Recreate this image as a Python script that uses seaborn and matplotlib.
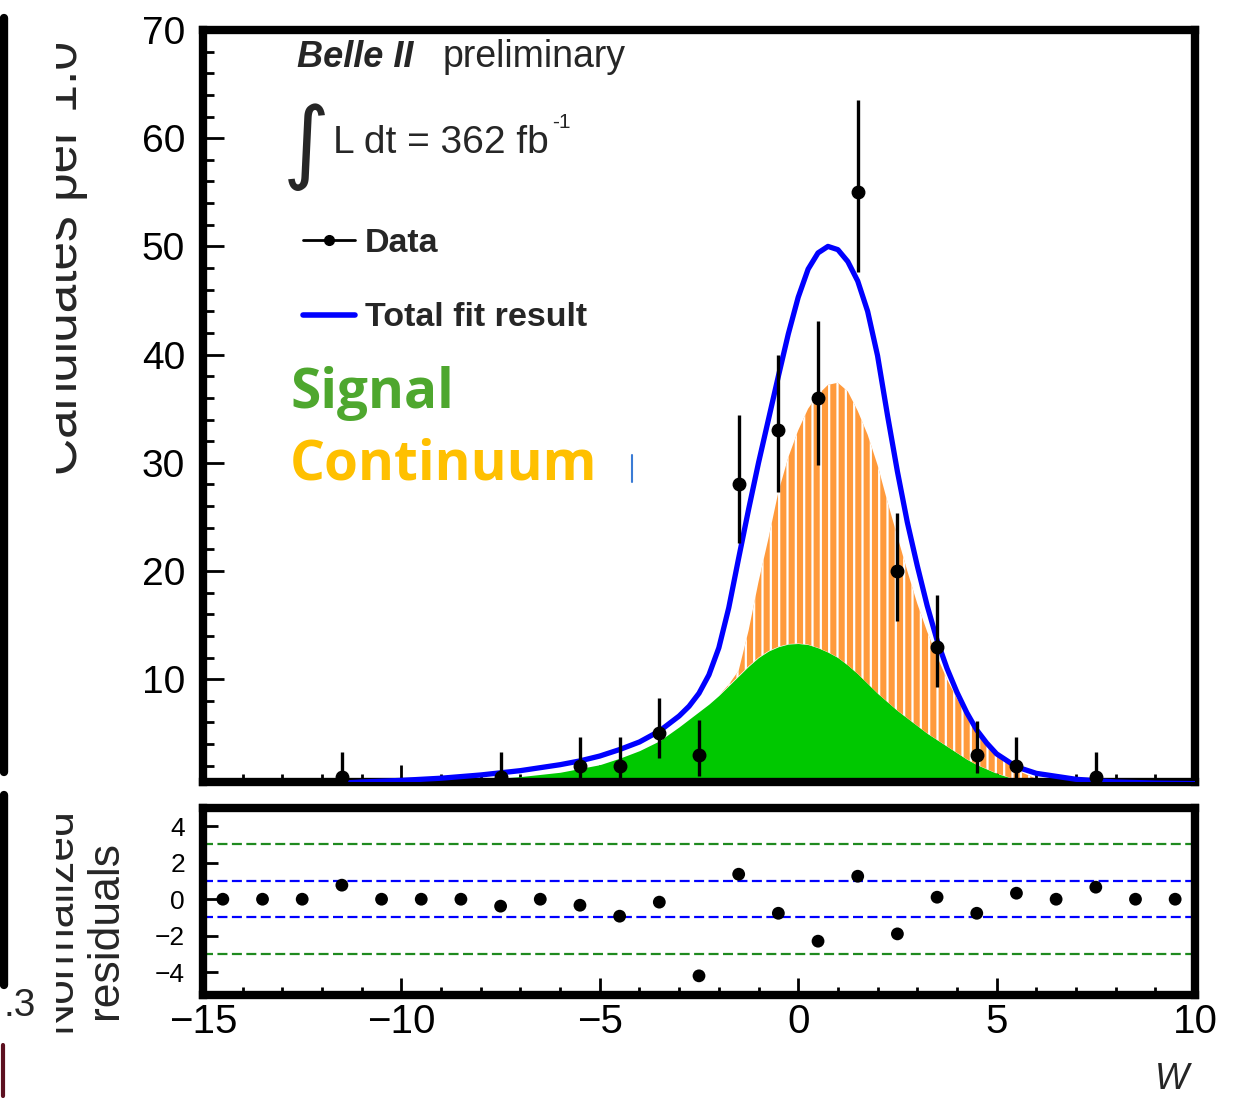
import matplotlib
matplotlib.use('Agg')
import matplotlib.pyplot as plt
import seaborn as sns
from matplotlib.lines import Line2D
from matplotlib.transforms import Bbox
from matplotlib.ticker import MultipleLocator, FixedLocator

# data points (bin centres, counts, asymmetric errors)
data_x = [-11.5, -7.5, -5.5, -4.5, -3.5, -2.5, -1.5, -0.5, 0.5, 1.5, 2.5, 3.5, 4.5, 5.5, 7.5]
data_y = [1, 1, 2, 2, 5, 3, 28, 33, 36, 55, 20, 13, 3, 2, 1]
err_lo = [0.8, 0.8, 1.4, 1.4, 2.3, 1.9, 5.4, 5.7, 6.2, 7.4, 4.6, 3.7, 1.7, 1.4, 0.8]
err_hi = [2.3, 2.3, 2.7, 2.7, 3.3, 3.2, 6.4, 7.0, 7.1, 8.5, 5.4, 4.8, 3.1, 2.7, 2.3]

# fit curves
curve_x = [-11.5, -11, -10, -9, -8, -7, -6, -5.5, -5, -4.5, -4, -3.5, -3, -2.75, -2.5,
           -2.25, -2, -1.75, -1.5, -1.25, -1, -0.75, -0.5, -0.25, 0, 0.25, 0.5, 0.75, 1,
           1.25, 1.5, 1.75, 2, 2.25, 2.5, 2.75, 3, 3.25, 3.5, 3.75, 4, 4.25, 4.5, 4.75, 5,
           5.5, 6, 7, 8, 9, 10]
total_y = [0.4, 0.5, 0.65, 0.85, 1.15, 1.55, 2.1, 2.45, 2.9, 3.5, 4.2, 5.2, 6.6, 7.5, 8.7,
           10.4, 12.9, 16.6, 21.2, 25.7, 30.0, 34.0, 38.0, 41.9, 45.3, 47.9, 49.4, 50.0, 49.7,
           48.6, 46.8, 44.0, 39.9, 34.4, 29.2, 24.5, 20.5, 16.8, 13.6, 11.0, 8.8, 6.9, 5.3, 4.1, 3.1,
           1.9, 1.3, 0.75, 0.5, 0.4, 0.35]
signal_y = [0.25, 0.3, 0.45, 0.55, 0.7, 1.0, 1.4, 1.75, 2.1, 2.7, 3.4, 4.3, 5.6, 6.3, 7.0,
            7.7, 8.5, 9.4, 10.3, 11.2, 12.0, 12.6, 13.0, 13.25, 13.3, 13.2, 12.9, 12.5, 12.0,
            11.3, 10.5, 9.6, 8.7, 7.9, 7.1, 6.4, 5.7, 5.0, 4.4, 3.8, 3.2, 2.6, 2.1, 1.7, 1.3,
            0.7, 0.4, 0.2, 0.1, 0.05, 0.0]
stack_y = [0.25, 0.3, 0.45, 0.55, 0.7, 1.0, 1.4, 1.75, 2.1, 2.7, 3.4, 4.3, 5.6, 6.3, 7.0,
           7.7, 8.5, 9.5, 10.8, 14.5, 19.0, 23.0, 27.3, 30.5, 33.0, 35.0, 36.3, 37.2, 37.4,
           36.6, 34.8, 32.6, 29.8, 26.4, 23.2, 20.0, 17.0, 14.4, 12.1, 10.0, 8.2, 6.7, 5.4, 4.2, 3.2,
           1.6, 0.8, 0.3, 0.1, 0.05, 0.0]

# normalized residuals, one per bin
res_x = [-14.5, -13.5, -12.5, -11.5, -10.5, -9.5, -8.5, -7.5, -6.5, -5.5, -4.5, -3.5, -2.5,
         -1.5, -0.5, 0.5, 1.5, 2.5, 3.5, 4.5, 5.5, 6.5, 7.5, 8.5, 9.5]
res_y = [0, 0, 0, 0.77, 0, 0, 0, -0.38, 0, -0.33, -0.93, -0.16, -4.2,
         1.37, -0.77, -2.3, 1.26, -1.9, 0.11, -0.77, 0.33, 0, 0.66, 0, 0]

y_ticks = [10, 20, 30, 40, 50, 60, 70]
res_ticks = [-4, -2, 0, 2, 4]

sns.set_style('ticks')
plt.rcParams['font.family'] = ['Liberation Sans', 'DejaVu Sans']
plt.rcParams['hatch.linewidth'] = 1.6

W, H = 1255, 1098
fig = plt.figure(figsize=(W / 100, H / 100), dpi=100)


def fx(px):
    return px / W


def fy(py):
    return 1 - py / H


ax = fig.add_axes([fx(203), fy(782), (1195 - 203) / W, (782 - 30) / H])
rax = fig.add_axes([fx(203), fy(995), (1195 - 203) / W, (995 - 808) / H])

# main panel
ax.fill_between(curve_x, 0, signal_y, color='#00c800', lw=0, zorder=2)
ax.fill_between(curve_x, signal_y, stack_y, facecolor='#ff9a3c', edgecolor='white',
                hatch='||', lw=0, zorder=2)
sns.lineplot(x=curve_x, y=total_y, color='#0000ff', lw=3.8, ax=ax, zorder=3,
             sort=False, estimator=None)
ax.errorbar(data_x, data_y, yerr=[err_lo, err_hi], fmt='o', color='k', ms=9,
            elinewidth=2.4, capsize=0, zorder=4)

ax.set_xlim(-15, 10)
ax.set_ylim(0.5, 70)
ax.yaxis.set_major_locator(FixedLocator(y_ticks))
ax.yaxis.set_minor_locator(MultipleLocator(2))
ax.xaxis.set_major_locator(MultipleLocator(5))
ax.xaxis.set_minor_locator(MultipleLocator(1))
ax.tick_params(which='both', direction='in', top=False, right=False, width=2, colors='k')
ax.tick_params(axis='y', which='major', length=15, pad=13, labelsize=28)
ax.tick_params(axis='y', which='minor', length=8)
ax.tick_params(axis='x', which='major', length=12, labelbottom=False)
ax.tick_params(axis='x', which='minor', length=6)
ax.set_xlabel('')
ax.set_ylabel('')

# residual panel
for lvl, col in [(3, '#1f8a1f'), (-3, '#1f8a1f'), (1, '#0000ff'), (-1, '#0000ff')]:
    rax.axhline(lvl, color=col, ls=(0, (4.5, 2)), lw=1.6, zorder=1)
sns.scatterplot(x=res_x, y=res_y, ax=rax, color='k', s=85, edgecolor='none', zorder=3)
rax.set_xlim(-15, 10)
rax.set_ylim(-5.25, 5)
rax.yaxis.set_major_locator(FixedLocator(res_ticks))
rax.xaxis.set_major_locator(MultipleLocator(5))
rax.xaxis.set_minor_locator(MultipleLocator(1))
rax.tick_params(which='both', direction='in', top=False, right=False, width=2, colors='k')
rax.tick_params(axis='y', which='major', length=11, pad=13, labelsize=19)
rax.tick_params(axis='x', which='major', length=12, pad=6, labelsize=29)
rax.tick_params(axis='x', which='minor', length=6)

for a in (ax, rax):
    for s in a.spines.values():
        s.set_visible(True)
        s.set_linewidth(6)
        s.set_color('k')

# texts in the main panel
fig.text(fx(297), fy(67), 'Belle II', weight='bold', style='italic', fontsize=26)
fig.text(fx(443), fy(67), 'preliminary', fontsize=27)
fig.text(fx(282), fy(147), r'$\int$', fontsize=46, va='center')
fig.text(fx(333), fy(153), 'L dt = 362 fb', fontsize=28)
fig.text(fx(552), fy(128), '-1', fontsize=15)

fig.add_artist(Line2D([fx(303), fx(355)], [fy(240), fy(240)], color='k', lw=2))
fig.add_artist(Line2D([fx(329)], [fy(240)], color='k', marker='o', ms=7))
fig.text(fx(365), fy(243), 'Data', weight='bold', fontsize=24.5, va='center')
fig.add_artist(Line2D([fx(303), fx(355)], [fy(315), fy(315)], color='#0000ff', lw=4))
fig.text(fx(365), fy(318), 'Total fit result', weight='bold', fontsize=24.5, va='center')

fig.text(fx(290), fy(393), 'Signal', color='#4ea72e', family=['Open Sans', 'DejaVu Sans'],
         weight='bold', fontsize=39.5, va='center')
fig.text(fx(290), fy(465), 'Continuum', color='#ffc000', family=['Open Sans', 'DejaVu Sans'],
         weight='bold', fontsize=39.5, va='center')
fig.add_artist(Line2D([fx(632), fx(632)], [fy(455), fy(482)], color='#3a7bd5', lw=1.5))

# axis titles, cut by the crop on the left
clip = Bbox.from_extents(56, 0, W, H)
for txt, xp, yp, fs in [('Candidates per 1.0', 77, 258, 37),
                        ('Normalized', 70, 920, 32),
                        ('residuals', 117, 930, 32)]:
    t = fig.text(fx(xp), fy(yp), txt, rotation=90, rotation_mode='anchor',
                 ha='center', va='baseline', fontsize=fs)
    t.set_clip_box(clip)
    t.set_clip_on(True)

fig.text(fx(1172), fy(1062), 'W', style='italic', fontsize=26, ha='center', va='top')

# pieces of the neighbouring panel
fig.add_artist(Line2D([fx(4), fx(4)], [fy(18), fy(772)], color='k', lw=6, solid_capstyle='round'))
fig.add_artist(Line2D([fx(4), fx(4)], [fy(795), fy(985)], color='k', lw=6, solid_capstyle='round'))
fig.text(fx(36), fy(1006), '.3', fontsize=28, ha='right', va='center')
fig.add_artist(Line2D([fx(3), fx(3)], [fy(1045), fy(1096)], color='#5c1020', lw=3))

fig.savefig('out.png', dpi=100)
